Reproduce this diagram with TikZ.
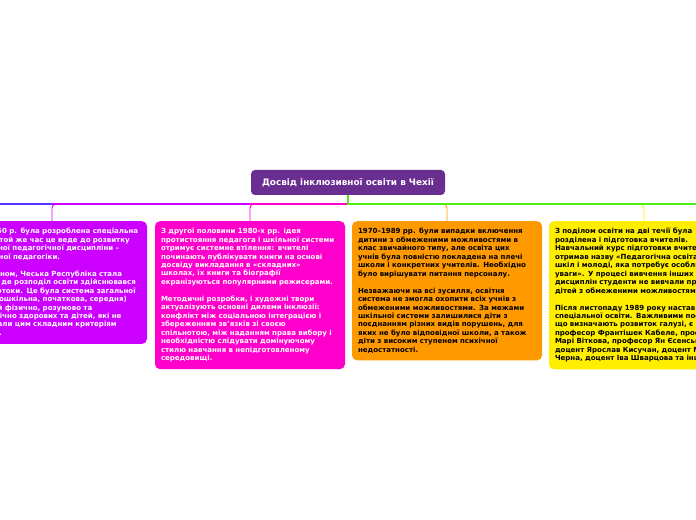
\documentclass[tikz,border=0pt]{standalone}
\usepackage{fontspec}
\setmainfont{DejaVu Sans}
\definecolor{hubcol}{HTML}{6A2D90}
\definecolor{violetcol}{HTML}{CC00FF}
\definecolor{pinkcol}{HTML}{FF00CC}
\definecolor{orangecol}{HTML}{FF9900}
\definecolor{yellowcol}{HTML}{FFEE00}
\definecolor{greencol}{HTML}{4CEE1A}
\definecolor{bluecol}{HTML}{5533FF}
\begin{document}
\begin{tikzpicture}[x=1bp,y=-1bp,
    hubbox/.style={fill=hubcol,text=white,rounded corners=4bp,minimum width=194bp,minimum height=25bp,
      font=\fontsize{8.9}{10}\selectfont\bfseries},
    notebox/.style={rounded corners=5bp,text width=178bp,inner xsep=6bp,inner ysep=7bp,align=left,anchor=north,
      font=\fontsize{7.05}{8.5}\selectfont\bfseries},
    buswire/.style={line width=1.8bp},
    dropwire/.style={line width=0.9bp,rounded corners=4bp}]
  \useasboundingbox (0,0) rectangle (696,520);

  % central topic
  \node[hubbox] (hub) at (348,182.5) {Досвід інклюзивної освіти в Чехії};
  \coordinate (bus) at (348,204);
  \coordinate (farleft) at (-260,204);
  \coordinate (farright) at (960,204);

  % notes
  \node[notebox,fill=violetcol,text=white] (early) at (52,221) {Після 1950 р. була розроблена спеціальна\\
    освіта, в той же час це веде до розвитку\\
    самостійної педагогічної дисципліни –\\
    спеціальної педагогіки.\\[8.5bp]
    Таким чином, Чеська Республіка стала\\
    країною, де розподіл освіти здійснювався\\
    на два потоки. Це була система загальної\\
    освіти (дошкільна, початкова, середня)\\
    для дітей фізично, розумово та\\
    психологічно здорових та дітей, які не\\
    відповідали цим складним критеріям\\
    здоров’я.};
  \node[notebox,fill=pinkcol,text=white] (eighties) at (250,221) {З другої половини 1980-х рр. ідея\\
    протистояння педагога і шкільної системи\\
    отримує системне втілення: вчителі\\
    починають публікувати книги на основі\\
    досвіду викладання в «складних»\\
    школах, їх книги та біографії\\
    екранізуються популярними режисерами.\\[8.5bp]
    Методичні розробки, і художні твори\\
    актуалізують основні дилеми інклюзії:\\
    конфлікт між соціальною інтеграцією і\\
    збереженням зв’язків зі своєю\\
    спільнотою, між наданням права вибору і\\
    необхідністю слідувати домінуючому\\
    стилю навчання в непідготовленому\\
    середовищі.};
  \node[notebox,fill=orangecol,text=black] (practice) at (447,221) {1970–1989 рр. були випадки включення\\
    дитини з обмеженими можливостями в\\
    клас звичайного типу, але освіта цих\\
    учнів була повністю покладена на плечі\\
    школи і конкретних учителів. Необхідно\\
    було вирішувати питання персоналу.\\[8.5bp]
    Незважаючи на всі зусилля, освітня\\
    система не змогла охопити всіх учнів з\\
    обмеженими можливостями. За межами\\
    шкільної системи залишилися діти з\\
    поєднанням різних видів порушень, для\\
    яких не було відповідної школи, а також\\
    діти з високим ступенем психічної\\
    недостатності.};
  \node[notebox,fill=yellowcol,text=black] (teachers) at (644,221) {З поділом освіти на дві течії була\\
    розділена і підготовка вчителів.\\
    Навчальний курс підготовки вчителів\\
    отримав назву «Педагогічна освіта для\\
    шкіл і молоді, яка потребує особливої\\
    уваги». У процесі вивчення інших\\
    дисциплін студенти не вивчали проблеми\\
    дітей з обмеженими можливостями.\\[8.5bp]
    Після листопаду 1989 року настав розквіт\\
    спеціальної освіти. Важливими постатями,\\
    що визначають розвиток галузі, є\\
    професор Франтішек Кабеле, професор\\
    Марі Віткова, професор Ян Єсенський,\\
    доцент Ярослав Кисучан, доцент Марі\\
    Черна, доцент Іва Шварцова та інші.};

  % connectors, left side
  \draw[buswire,bluecol] (bus) -- (farleft);
  \draw[buswire,violetcol] (bus) -- (early.north |- bus);
  \draw[dropwire,violetcol] (bus) -| (early.north);
  \draw[buswire,pinkcol] (bus) -- (eighties.north |- bus);
  \draw[dropwire,pinkcol] (bus) -| (eighties.north);
  % connectors, right side
  \draw[dropwire,orangecol] (bus) -| (practice.north);
  \draw[dropwire,yellowcol] (bus) -| (teachers.north);
  \draw[buswire,greencol] (hub.south) -- (bus) -- (farright);
\end{tikzpicture}
\end{document}
